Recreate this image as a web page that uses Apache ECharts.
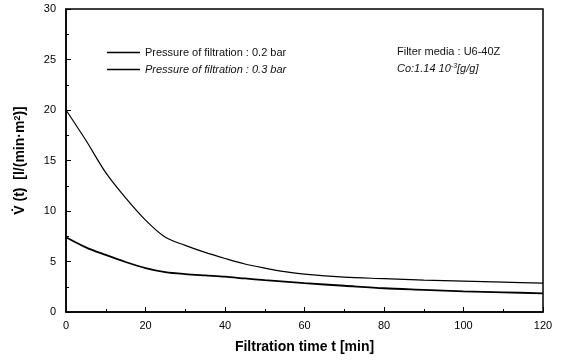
<!DOCTYPE html>
<html>
<head>
<meta charset="utf-8">
<script src="https://cdn.jsdelivr.net/npm/echarts@6/dist/echarts.min.js"></script>
<style>
html,body{margin:0;padding:0;background:#fff;}
#chart{width:563px;height:361px;}
</style>
</head>
<body>
<div id="chart"></div>
<script>
// Filtration time (min)
const times = [0, 5, 10, 15, 20, 25, 30, 35, 40, 45, 50, 55, 60, 70, 80, 90, 100, 110, 120];
// Flux at 0.2 bar
const flux02 = [7.4, 6.4, 5.65, 4.95, 4.35, 3.95, 3.75, 3.62, 3.5, 3.32, 3.15, 3.0, 2.85, 2.6, 2.35, 2.2, 2.05, 1.95, 1.85];
// Flux at 0.3 bar
const flux03 = [20, 17.0, 13.8, 11.3, 9.1, 7.4, 6.6, 5.9, 5.3, 4.75, 4.35, 4.0, 3.75, 3.45, 3.3, 3.15, 3.05, 2.95, 2.85];
const seriesNames = ['Pressure of filtration : 0.2 bar', 'Pressure of filtration : 0.3 bar'];
const xTicks = [0, 20, 40, 60, 80, 100, 120];
const yTicks = [0, 5, 10, 15, 20, 25, 30];

const chart = echarts.init(document.getElementById('chart'), null, {renderer: 'canvas'});
const font = 'Liberation Sans, Arial, sans-serif';

chart.setOption({
  animation: false,
  backgroundColor: '#fff',
  grid: {left: 66, right: 20, top: 9, bottom: 49, show: true, borderColor: '#000', borderWidth: 1.5},
  legend: {
    orient: 'vertical', left: 107, top: 46, itemGap: 4, padding: 0,
    itemWidth: 33, itemHeight: 1.6, icon: 'rect',
    textStyle: {fontFamily: font, fontSize: 11, color: '#111', lineHeight: 13},
    data: [
      {name: seriesNames[0], itemStyle: {color: '#000'}},
      {name: seriesNames[1], itemStyle: {color: '#000'}, textStyle: {fontStyle: 'italic'}}
    ]
  },
  xAxis: {
    type: 'value', min: 0, max: 120, interval: 20,
    name: 'Filtration time t [min]', nameLocation: 'middle', nameGap: 28,
    nameTextStyle: {fontFamily: font, fontSize: 14, fontWeight: 'bold', color: '#000'},
    axisLine: {lineStyle: {color: '#000', width: 1.5}},
    axisTick: {inside: true, length: 5, lineStyle: {color: '#000'}},
    minorTick: {show: true, splitNumber: 2, length: 3, lineStyle: {color: '#000'}},
    splitLine: {show: false},
    axisLabel: {fontFamily: font, fontSize: 11, color: '#000', margin: 8,
      formatter: v => xTicks.includes(v) ? String(v) : ''}
  },
  yAxis: {
    type: 'value', min: 0, max: 30, interval: 5,
    name: '{a|V\u0307 (t)  [l/(min\u00b7m}{s|2}{a|)]}', nameLocation: 'middle', nameGap: 38,
    nameTextStyle: {
      rich: {
        a: {fontFamily: font, fontSize: 14, fontWeight: 'bold', color: '#000'},
        s: {fontFamily: font, fontSize: 9, fontWeight: 'bold', color: '#000', verticalAlign: 'top', padding: [0, 0, 6, 0]}
      }
    },
    axisLine: {lineStyle: {color: '#000', width: 1.5}},
    axisTick: {inside: true, length: 5, lineStyle: {color: '#000'}},
    minorTick: {show: true, splitNumber: 2, length: 3, lineStyle: {color: '#000'}},
    splitLine: {show: false},
    axisLabel: {fontFamily: font, fontSize: 11, color: '#000', margin: 10,
      formatter: v => yTicks.includes(v) ? String(v) : ''}
  },
  series: [
    {
      name: seriesNames[0], type: 'line', symbol: 'none', smooth: 0.3,
      lineStyle: {color: '#000', width: 1.8},
      itemStyle: {color: '#000'},
      data: times.map((t, i) => [t, flux02[i]])
    },
    {
      name: seriesNames[1], type: 'line', symbol: 'none', smooth: 0.3,
      lineStyle: {color: '#000', width: 1.2},
      itemStyle: {color: '#000'},
      data: times.map((t, i) => [t, flux03[i]])
    }
  ],
  graphic: [
    {type: 'text', left: 397, top: 46,
      style: {text: 'Filter media : U6-40Z', font: '11px ' + font, fill: '#111'}},
    {type: 'text', left: 397, top: 63,
      style: {text: '{a|Co:1.14 10}{s|-3}{a|[g/g]}',
        rich: {
          a: {fontFamily: font, fontSize: 11, fontStyle: 'italic', fill: '#111'},
          s: {fontFamily: font, fontSize: 7, fontStyle: 'italic', fill: '#111', verticalAlign: 'top', padding: [0, 0, 5, 0]}
        }}}
  ]
});
</script>
</body>
</html>
